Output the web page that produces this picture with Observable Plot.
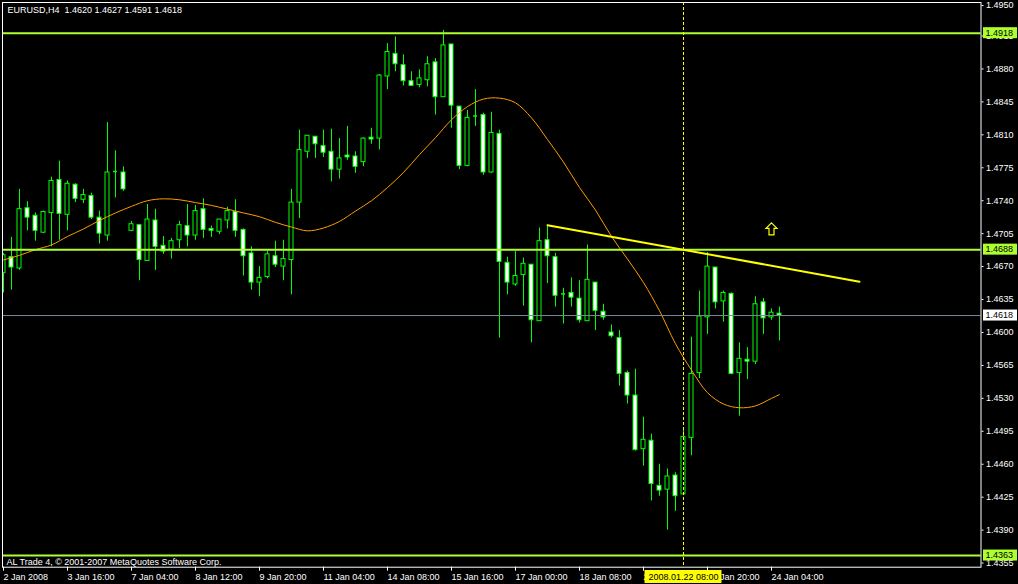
<!DOCTYPE html>
<html><head><meta charset="utf-8">
<script src="https://cdn.jsdelivr.net/npm/d3@7"></script>
<script src="https://cdn.jsdelivr.net/npm/@observablehq/plot@0.6"></script>
<style>
html,body{margin:0;padding:0;background:#000;overflow:hidden}
#chart svg{display:block}
</style></head><body><div id="chart"></div>
<script>
// ---- data (EURUSD H4) ----
const opens = [1.4663,1.4680,1.4668,1.4732,1.4724,1.4706,1.4727,1.4762,1.4725,1.4757,
1.4741,1.4745,1.4722,1.4703,1.4771,1.4770,1.4708,1.4714,1.4676,1.4719,
1.4692,1.4688,1.4698,1.4713,1.4703,1.4731,1.4710,1.4707,1.4719,1.4728,
1.4709,1.4684,1.4653,1.4659,1.4681,1.4670,1.4677,1.4738,1.4792,1.4808,
1.4798,1.4792,1.4773,1.4788,1.4787,1.4781,1.4807,1.4806,1.4872,1.4896,
1.4884,1.4867,1.4863,1.4868,1.4887,1.4850,1.4906,1.4840,1.4777,1.4830,
1.4831,1.4770,1.4811,1.4674,1.4651,1.4661,1.4672,1.4612,1.4698,1.4680,
1.4641,1.4642,1.4636,1.4612,1.4653,1.4622,1.4600,1.4594,1.4557,1.4533,
1.4476,1.4485,1.4437,1.4433,1.4448,1.4428,1.4488,1.4557,1.4616,1.4669,
1.4633,1.4641,1.4557,1.4571,1.4569,1.4632,1.4616,1.4620];
const highs = [1.4684,1.4701,1.4752,1.4739,1.4727,1.4729,1.4765,1.4782,1.4761,1.4758,
1.4752,1.4748,1.4729,1.4823,1.4793,1.4776,1.4718,1.4715,1.4736,1.4731,
1.4702,1.4700,1.4718,1.4736,1.4735,1.4742,1.4713,1.4720,1.4733,1.4741,
1.4710,1.4691,1.4670,1.4686,1.4697,1.4698,1.4752,1.4815,1.4809,1.4808,
1.4815,1.4816,1.4806,1.4819,1.4792,1.4807,1.4817,1.4874,1.4907,1.4914,
1.4895,1.4877,1.4879,1.4893,1.4891,1.4921,1.4906,1.4840,1.4836,1.4858,
1.4833,1.4834,1.4815,1.4680,1.4686,1.4679,1.4672,1.4711,1.4714,1.4684,
1.4647,1.4658,1.4655,1.4693,1.4653,1.4630,1.4608,1.4602,1.4559,1.4561,
1.4510,1.4492,1.4460,1.4455,1.4451,1.4498,1.4595,1.4644,1.4685,1.4669,
1.4644,1.4642,1.4589,1.4584,1.4638,1.4636,1.4625,1.4627];
const lows = [1.4642,1.4645,1.4666,1.4708,1.4697,1.4705,1.4691,1.4698,1.4708,1.4738,
1.4737,1.4720,1.4694,1.4697,1.4743,1.4750,1.4707,1.4655,1.4676,1.4666,
1.4683,1.4678,1.4689,1.4691,1.4698,1.4700,1.4701,1.4704,1.4710,1.4701,
1.4660,1.4645,1.4638,1.4657,1.4669,1.4655,1.4640,1.4721,1.4785,1.4785,
1.4786,1.4760,1.4763,1.4783,1.4769,1.4776,1.4800,1.4794,1.4858,1.4877,
1.4862,1.4862,1.4860,1.4861,1.4831,1.4850,1.4817,1.4773,1.4776,1.4819,
1.4767,1.4769,1.4594,1.4640,1.4649,1.4628,1.4589,1.4612,1.4652,1.4627,
1.4609,1.4627,1.4610,1.4612,1.4602,1.4613,1.4594,1.4543,1.4524,1.4474,
1.4458,1.4421,1.4426,1.4390,1.4410,1.4427,1.4469,1.4551,1.4598,1.4625,
1.4611,1.4555,1.4511,1.4550,1.4566,1.4598,1.4613,1.4591];
const closes = [1.4682,1.4669,1.4731,1.4722,1.4708,1.4728,1.4761,1.4726,1.4758,1.4742,
1.4746,1.4722,1.4705,1.4770,1.4771,1.4752,1.4715,1.4677,1.4720,1.4691,
1.4686,1.4697,1.4714,1.4703,1.4729,1.4709,1.4708,1.4720,1.4729,1.4708,
1.4681,1.4653,1.4658,1.4683,1.4672,1.4678,1.4738,1.4794,1.4809,1.4800,
1.4791,1.4773,1.4785,1.4786,1.4776,1.4806,1.4805,1.4873,1.4898,1.4885,
1.4867,1.4862,1.4870,1.4885,1.4850,1.4905,1.4841,1.4777,1.4828,1.4830,
1.4770,1.4812,1.4675,1.4653,1.4660,1.4673,1.4613,1.4697,1.4681,1.4639,
1.4641,1.4637,1.4613,1.4656,1.4623,1.4616,1.4596,1.4556,1.4533,1.4475,
1.4486,1.4439,1.4432,1.4447,1.4426,1.4489,1.4556,1.4617,1.4670,1.4632,
1.4642,1.4556,1.4572,1.4569,1.4630,1.4615,1.4621,1.4618];

// moving average (orange), sampled bars
const maBars = [0,2,4,6,8,10,12,14,16,18,20,22,24,26,28,30,32,34,36,38,40,42,44,46,48,
50,52,54,56,58,60,62,64,66,68,70,72,74,76,78,80,82,84,86,88,90,92,94,96,97];
const maValues = [1.4677,1.4682,1.4688,1.4693,1.4702,1.4710,1.4719,1.4727,1.4734,1.4740,
1.4742,1.4741,1.4738,1.4735,1.4731,1.4727,1.4723,1.4717,1.4712,1.4708,1.4711,1.4718,1.4729,
1.4740,1.4754,1.4770,1.4789,1.4807,1.4826,1.4840,1.4848,1.4849,1.4844,1.4828,1.4805,1.4781,
1.4754,1.4730,1.4702,1.4678,1.4653,1.4623,1.4588,1.4560,1.4536,1.4524,1.4520,1.4522,1.4530,1.4534];

// objects
const levelLines = [1.4918, 1.4688, 1.4363];
const bidPrice = 1.4618;
const trendBars = [68, 107];
const trendValues = [1.4714, 1.4654];
const crossBar = 85;
const crossLabel = "2008.01.22 08:00";
const arrowBar = 96, arrowValue = 1.4710;

// axes
const yTopTick = [1.4950];
const yTicks = [1.4915,1.4880,1.4845,1.4810,1.4775,1.4740,1.4705,1.4670,1.4635,
1.4600,1.4565,1.4530,1.4495,1.4460,1.4425,1.4390,1.4355];
const timeTickBars = [0,8,16,24,32,40,48,56,64,72,80,88,96];
const timeLabels = ["2 Jan 2008","3 Jan 16:00","7 Jan 04:00","8 Jan 12:00","9 Jan 20:00",
"11 Jan 04:00","14 Jan 08:00","15 Jan 16:00","17 Jan 00:00","18 Jan 08:00",
"21 Jan 12:00","22 Jan 20:00","24 Jan 04:00"];
const header = "EURUSD,H4\u00a0\u00a01.4620 1.4627 1.4591 1.4618";
const footer = "AL Trade 4, \u00a9 2001-2007 MetaQuotes Software Corp.";

// ---- build ----
const bars = opens.map((o, i) => ({i, o, h: highs[i], l: lows[i], c: closes[i]}));
const bull = bars.filter(d => d.c > d.o);
const bear = bars.filter(d => d.c < d.o);
const doji = bars.filter(d => d.c === d.o);
const ma = maBars.map((b, k) => ({b, v: maValues[k]}));
const trend = trendBars.map((b, k) => ({b, v: trendValues[k]}));
const GREEN = "#00ff00", LEVEL = "#adff2f";
const hw = 0.25;

// outlined up-arrow symbol (MT4 "arrow" object)
const upArrow = {
  draw(ctx) {
    ctx.moveTo(0, -6); ctx.lineTo(5.5, -0.5); ctx.lineTo(2.5, -0.5); ctx.lineTo(2.5, 6);
    ctx.lineTo(-2.5, 6); ctx.lineTo(-2.5, -0.5); ctx.lineTo(-5.5, -0.5); ctx.closePath();
  }
};

const chart = Plot.plot({
  width: 1018, height: 584,
  marginLeft: 2, marginRight: 37.5, marginTop: 2, marginBottom: 17.3,
  style: {background: "#000", color: "#fff", fontFamily: "'Liberation Sans', Arial, sans-serif", fontSize: "9px"},
  x: {domain: [-0.125, 122.1875]},
  y: {domain: [1.43506, 1.49506]},
  marks: [
    Plot.ruleX(bars, {x: "i", y1: "l", y2: "h", stroke: GREEN, clip: true}),
    Plot.rect(bull, {x1: d => d.i - hw, x2: d => d.i + hw, y1: "o", y2: "c", fill: "#000", stroke: GREEN, clip: true}),
    Plot.rect(bear, {x1: d => d.i - hw, x2: d => d.i + hw, y1: "o", y2: "c", fill: "#fff", stroke: GREEN, clip: true}),
    Plot.ruleY(doji, {y: "o", x1: d => d.i - hw, x2: d => d.i + hw, stroke: GREEN, strokeWidth: 1.5, clip: true}),
    Plot.line(ma, {x: "b", y: "v", stroke: "#ff9c00", strokeWidth: 1, curve: "catmull-rom", clip: true}),
    Plot.ruleY([bidPrice], {stroke: "#778899"}),
    Plot.ruleY(levelLines, {stroke: LEVEL, strokeWidth: 2}),
    Plot.line(trend, {x: "b", y: "v", stroke: "#ffff00", strokeWidth: 2, clip: true}),
    Plot.ruleX([crossBar], {stroke: "#ffff00", strokeDasharray: "3,2"}),
    Plot.dot([arrowBar], {x: d => d, y: () => arrowValue, symbol: upArrow, r: 6, stroke: "#ffff00", fill: "none", strokeWidth: 1.2}),
    Plot.text([header], {frameAnchor: "top-left", text: d => d, dx: 5, dy: 4, lineAnchor: "top", textAnchor: "start", fill: "#fff"}),
    Plot.text([footer], {frameAnchor: "bottom-left", text: d => d, dx: 4, dy: -2, lineAnchor: "bottom", textAnchor: "start", fill: "#fff"}),
    Plot.frame({stroke: "#fff"}),
    Plot.axisY({anchor: "right", ticks: yTopTick, tickFormat: d => d.toFixed(4), tickSize: 2, tickPadding: 3, color: "#fff", label: null, dy: 2.5}),
    Plot.axisY({anchor: "right", ticks: yTicks, tickFormat: d => d.toFixed(4), tickSize: 2, tickPadding: 3, color: "#fff", label: null}),
    Plot.axisX({anchor: "bottom", ticks: timeTickBars, tickFormat: d => timeLabels[timeTickBars.indexOf(d)], tickSize: 4, tickPadding: 2, textAnchor: "start", color: "#fff", label: null})
  ]
});
document.getElementById("chart").appendChild(chart);

// price labels on the right axis and the time label under the crosshair, placed with the plot's scales
const svg = d3.select(chart);
const ys = chart.scale("y"), xs = chart.scale("x");
const tags = levelLines.map(v => ({v, bg: LEVEL})).concat([{v: bidPrice, bg: "#fff"}]);
const g = svg.append("g")
  .attr("font-family", "'Liberation Sans', Arial, sans-serif")
  .attr("font-size", 9)
  .attr("text-anchor", "start");
for (const t of tags) {
  const y = ys.apply(t.v);
  g.append("rect").attr("x", 983).attr("y", y - 5.5).attr("width", 34).attr("height", 11).attr("fill", t.bg);
  g.append("text").attr("x", 985.5).attr("y", y + 3.3).attr("text-anchor", "start").attr("fill", "#000").text(t.v.toFixed(4));
}
const cx = xs.apply(crossBar) + 0.5;
g.append("rect").attr("x", cx - 39).attr("y", 570).attr("width", 77).attr("height", 13).attr("fill", "#ffff00");
g.append("text").attr("x", cx).attr("y", 580).attr("text-anchor", "middle").attr("fill", "#000").text(crossLabel);
</script></body></html>
